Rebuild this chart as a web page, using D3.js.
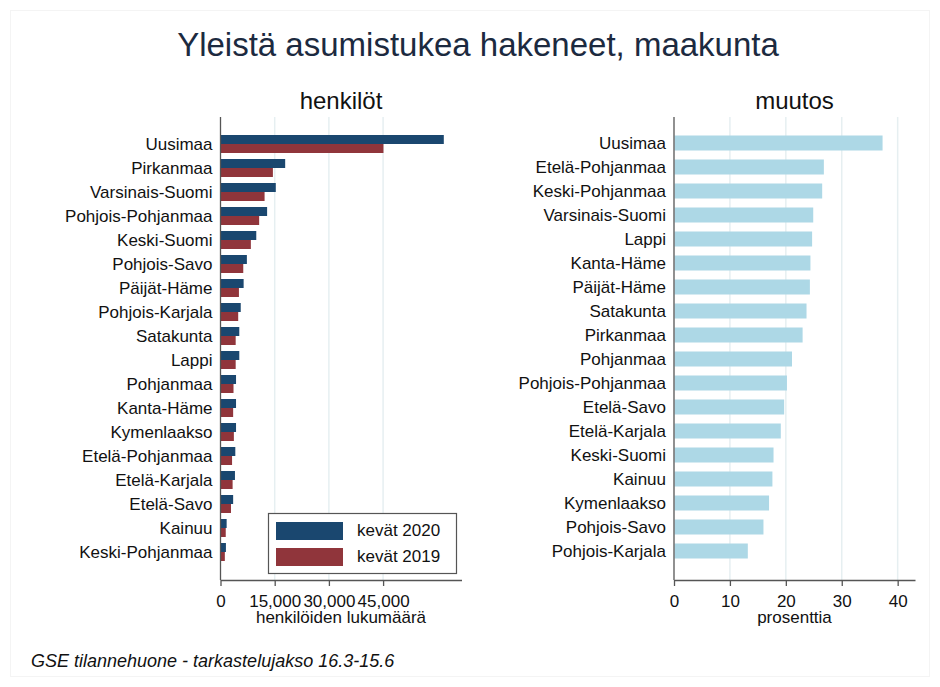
<!DOCTYPE html>
<html>
<head>
<meta charset="utf-8">
<script src="https://cdn.jsdelivr.net/npm/d3@7"></script>
<style>
  body { margin: 0; background: #fff; }
  svg { font-family: "Liberation Sans", Arial, sans-serif; }
</style>
</head>
<body>
<div id="chart"></div>
<script>
// henkilöt (left panel)
const regionsCount = ["Uusimaa", "Pirkanmaa", "Varsinais-Suomi", "Pohjois-Pohjanmaa", "Keski-Suomi",
    "Pohjois-Savo", "Päijät-Häme", "Pohjois-Karjala", "Satakunta", "Lappi", "Pohjanmaa", "Kanta-Häme",
    "Kymenlaakso", "Etelä-Pohjanmaa", "Etelä-Karjala", "Etelä-Savo", "Kainuu", "Keski-Pohjanmaa"];
const spring2020 = [61800, 17900, 15300, 12900, 9900, 7300, 6400, 5600, 5200, 5200, 4300, 4300, 4300, 4100, 4000, 3500, 1700, 1500];
const spring2019 = [45100, 14500, 12200, 10700, 8400, 6300, 5100, 4900, 4200, 4200, 3600, 3500, 3700, 3200, 3350, 2900, 1450, 1200];
const countTicks = [0, 15000, 30000, 45000];

// muutos (right panel)
const regionsChange = ["Uusimaa", "Etelä-Pohjanmaa", "Keski-Pohjanmaa", "Varsinais-Suomi", "Lappi",
    "Kanta-Häme", "Päijät-Häme", "Satakunta", "Pirkanmaa", "Pohjanmaa", "Pohjois-Pohjanmaa", "Etelä-Savo",
    "Etelä-Karjala", "Keski-Suomi", "Kainuu", "Kymenlaakso", "Pohjois-Savo", "Pohjois-Karjala"];
const changePct = [37.3, 26.8, 26.5, 24.9, 24.7, 24.4, 24.3, 23.7, 23.0, 21.1, 20.2, 19.7, 19.1, 17.8, 17.6, 17.0, 16.0, 13.2];
const changeTicks = [0, 10, 20, 30, 40];

const series = ["kevät 2020", "kevät 2019"];
const colors = {"kevät 2020": "#1a476f", "kevät 2019": "#90353b"};

const width = 940, height = 687;
const plotTop = 117, plotBottom = 580;

const svg = d3.select('#chart').append('svg')
    .attr('width', width)
    .attr('height', height);

svg.append('rect')
    .attr('x', 10.5).attr('y', 10.5)
    .attr('width', width - 21).attr('height', height - 21)
    .attr('fill', '#fff')
    .attr('stroke', '#f4f4f4');

// main title
svg.append('text')
    .attr('x', 478)
    .attr('y', 56)
    .attr('text-anchor', 'middle')
    .style('font-size', '33px')
    .attr('fill', '#1c2a40')
    .text('Yleistä asumistukea hakeneet, maakunta');

svg.append('text')
    .attr('x', 31)
    .attr('y', 667)
    .style('font-size', '18px')
    .style('font-style', 'italic')
    .attr('fill', '#111')
    .text('GSE tilannehuone - tarkastelujakso 16.3-15.6');

function panel(opts) {
    const x = d3.scaleLinear().domain([0, opts.max]).range([opts.left, opts.right]);
    const y = d3.scaleBand()
        .domain(opts.categories)
        .range(opts.bandRange)
        .paddingInner(opts.padInner)
        .paddingOuter(opts.padOuter);

    const g = svg.append('g');

    // gridlines
    g.append('g')
        .selectAll('line')
        .data(opts.ticks.filter(function (t) { return t > 0; }))
        .enter()
        .append('line')
        .attr('x1', function (d) { return x(d); })
        .attr('x2', function (d) { return x(d); })
        .attr('y1', plotTop)
        .attr('y2', plotBottom)
        .attr('stroke', '#e6eff1')
        .attr('stroke-width', 1.5);

    // panel title
    g.append('text')
        .attr('x', (opts.left + opts.right) / 2)
        .attr('y', 109)
        .attr('text-anchor', 'middle')
        .style('font-size', '24px')
        .attr('fill', '#111')
        .text(opts.title);

    // x axis
    const axis = g.append('g')
        .attr('transform', `translate(0,${plotBottom})`)
        .call(d3.axisBottom(x)
            .tickValues(opts.ticks)
            .tickFormat(opts.format)
            .tickSize(6)
            .tickSizeOuter(0)
            .tickPadding(9));
    axis.select('.domain').attr('stroke', '#555').attr('stroke-width', 1.3);
    axis.selectAll('.tick line').attr('stroke', '#555').attr('stroke-width', 1.3);
    axis.selectAll('.tick text')
        .style('font-size', '17px')
        .style('font-family', '"Liberation Sans", Arial, sans-serif')
        .attr('fill', '#111');

    g.append('text')
        .attr('x', (opts.left + opts.right) / 2)
        .attr('y', 623)
        .attr('text-anchor', 'middle')
        .style('font-size', '17px')
        .attr('fill', '#111')
        .text(opts.axisTitle);

    // category labels
    g.append('g')
        .selectAll('text')
        .data(opts.categories)
        .enter()
        .append('text')
        .attr('x', opts.left - 8)
        .attr('y', function (d) { return y(d) + y.bandwidth() / 2; })
        .attr('dy', '0.35em')
        .attr('text-anchor', 'end')
        .style('font-size', '17px')
        .attr('fill', '#111')
        .text(function (d) { return d; });

    return {x, y, g};
}

// left panel
const left = panel({
    categories: regionsCount, max: 66700, left: 220.5, right: 461.5,
    bandRange: [132, 564], padInner: 0.25, padOuter: 0.125,
    ticks: countTicks, format: d3.format(','),
    title: 'henkilöt', axisTitle: 'henkilöiden lukumäärä'
});

const rows = regionsCount.map(function (r, i) {
    return {region: r, values: [
        {key: series[0], value: spring2020[i]},
        {key: series[1], value: spring2019[i]}
    ]};
});
const sub = d3.scaleBand().domain(series).range([0, left.y.bandwidth()]);

left.g.append('g')
    .selectAll('g')
    .data(rows)
    .enter()
    .append('g')
    .attr('transform', function (d) { return `translate(0,${left.y(d.region)})`; })
    .selectAll('rect')
    .data(function (d) { return d.values; })
    .enter()
    .append('rect')
    .attr('x', left.x(0) + 0.5)
    .attr('y', function (d) { return sub(d.key); })
    .attr('height', sub.bandwidth())
    .attr('width', function (d) { return left.x(d.value) - left.x(0) - 0.5; })
    .attr('fill', function (d) { return colors[d.key]; });

left.g.append('line')
    .attr('x1', 220.5).attr('x2', 220.5)
    .attr('y1', plotTop).attr('y2', plotBottom)
    .attr('stroke', '#555').attr('stroke-width', 1.3);

// legend
const legend = left.g.append('g').attr('transform', 'translate(268,513)');
legend.append('rect')
    .attr('x', 0.5).attr('y', 0.5)
    .attr('width', 188).attr('height', 60)
    .attr('fill', '#fff')
    .attr('stroke', '#555')
    .attr('stroke-width', 1.2);
const item = legend.selectAll('.item')
    .data(series)
    .enter()
    .append('g')
    .attr('class', 'item')
    .attr('transform', function (d, i) { return `translate(0,${i * 26})`; });
item.append('rect')
    .attr('x', 8).attr('y', 9)
    .attr('width', 67).attr('height', 18)
    .attr('fill', function (d) { return colors[d]; });
item.append('text')
    .attr('x', 89).attr('y', 23)
    .style('font-size', '17px')
    .attr('fill', '#111')
    .text(function (d) { return d; });

// right panel
const right = panel({
    categories: regionsChange, max: 43.1, left: 674, right: 915,
    bandRange: [131, 563], padInner: 0.375, padOuter: 0.1875,
    ticks: changeTicks, format: d3.format('d'),
    title: 'muutos', axisTitle: 'prosenttia'
});

right.g.append('g')
    .selectAll('rect')
    .data(regionsChange.map(function (r, i) { return {region: r, value: changePct[i]}; }))
    .enter()
    .append('rect')
    .attr('x', right.x(0) + 0.5)
    .attr('y', function (d) { return right.y(d.region); })
    .attr('height', right.y.bandwidth())
    .attr('width', function (d) { return right.x(d.value) - right.x(0) - 0.5; })
    .attr('fill', '#add8e6');

right.g.append('line')
    .attr('x1', 674).attr('x2', 674)
    .attr('y1', plotTop).attr('y2', plotBottom)
    .attr('stroke', '#555').attr('stroke-width', 1.3);
</script>
</body>
</html>
